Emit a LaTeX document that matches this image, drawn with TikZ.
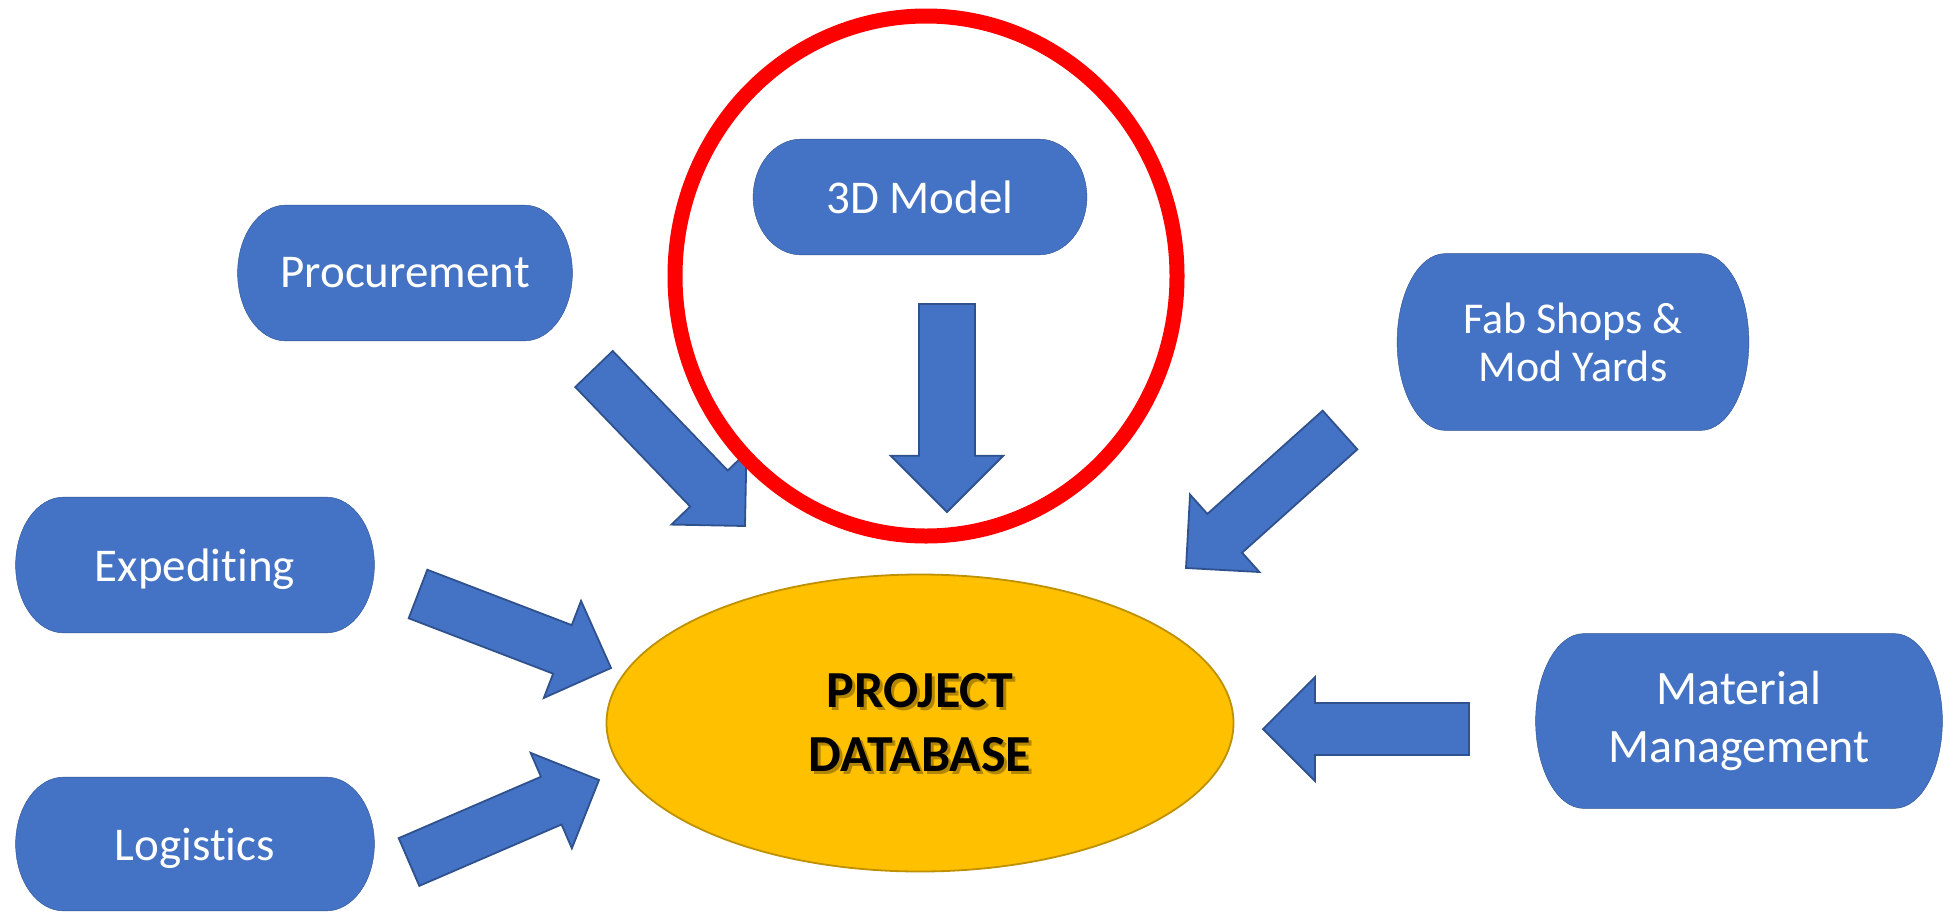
\documentclass[tikz,border=0pt]{standalone}
\usepackage{fontspec}
\setmainfont{Carlito}[Ligatures=CommonOff]
\usetikzlibrary{shapes.geometric, calc, backgrounds}

\definecolor{nodeblue}{HTML}{4472C4}
\definecolor{edgeblue}{HTML}{2F528F}
\definecolor{dbgold}{HTML}{FFC000}
\definecolor{dbedge}{HTML}{BF9000}

% end radius of the pill shaped boxes
\newcommand{\capr}{48pt}

% fat block arrow from #2 to #3, #1 scales shaft and head
\newcommand{\blockarrow}[3][1]{%
    \coordinate (hb) at ($(#3)!#1*52pt!(#2)$);
    \draw[blockarrow] ($(#2)!#1*26pt!90:(#3)$) -- ($(hb)!#1*26pt!90:(#3)$)
        -- ($(hb)!#1*52pt!90:(#3)$) -- (#3) -- ($(hb)!#1*52pt!-90:(#3)$)
        -- ($(hb)!#1*26pt!-90:(#3)$) -- ($(#2)!#1*26pt!-90:(#3)$) -- cycle;
}

\begin{document}
\begin{tikzpicture}[
        x = 1pt, y = -1pt,
        line width = 1.8pt,
        capsule/.style = {
            rectangle,
            inner sep = 0pt,
            align = center,
            text = white,
            font = {\fontsize{47}{58}\selectfont}
        },
        capsule edge/.style = {
            fill = nodeblue,
            draw = edgeblue
        },
        blockarrow/.style = {
            fill = nodeblue,
            draw = edgeblue
        },
        db/.style = {
            ellipse,
            inner sep = 0pt,
            minimum width = 627pt,
            minimum height = 297pt,
            fill = dbgold,
            draw = dbedge
        },
        db text/.style = {
            align = center,
            font = {\fontsize{52}{64}\selectfont\bfseries}
        },
        focus/.style = {draw = red, line width = 15pt}
    ]

    \useasboundingbox (0,0) rectangle (1960,911);

    \node[db] (db) at (920,723) {};
    \node[db text, text = black, opacity = 0.3] (db-shadow) at ([shift={(3,3)}]db.center) {PROJECT\\DATABASE};
    \node[db text] (db-label) at (db.center) {PROJECT\\DATABASE};

    \node[capsule, minimum width = 332pt, minimum height = 114pt] (model) at (920,197) {3D Model};
    \node[capsule, minimum width = 333pt, minimum height = 134pt] (procurement) at (405,273) {Procurement};
    \node[capsule, minimum width = 350pt, minimum height = 175pt, font = {\fontsize{44}{48}\selectfont}] (fab) at (1573,342) {Fab Shops \&\\Mod Yards};
    \node[capsule, minimum width = 357pt, minimum height = 134pt, text depth = 0pt] (expediting) at (195,565) {Expediting};
    \node[capsule, minimum width = 357pt, minimum height = 132pt, text depth = 0pt] (logistics) at (195,844) {Logistics};
    \node[capsule, minimum width = 405pt, minimum height = 173pt, font = {\fontsize{48}{58}\selectfont}] (material) at (1739,721) {Material\\Management};

    \begin{scope}[on background layer]
        \foreach \nd in {model, procurement, fab, expediting, logistics, material}
            \path[capsule edge] let \p1 = (\nd.north), \p2 = (\nd.south), \n1 = {abs(\y1-\y2)/2} in
                ([xshift=\capr]\nd.north west) arc[start angle=90, end angle=270, x radius=\capr, y radius=\n1]
                -- ([xshift=-\capr]\nd.south east) arc[start angle=-90, end angle=90, x radius=\capr, y radius=\n1]
                -- cycle;
    \end{scope}

    % arrows into the database
    \coordinate (model-tail) at (947,304);
    \coordinate (model-tip) at (947,512);
    \coordinate (procurement-tail) at (594,369);
    \coordinate (procurement-tip) at (745,526);
    \coordinate (fab-tail) at (1340,430);
    \coordinate (fab-tip) at (1186,568);
    \coordinate (expediting-tail) at (418,594);
    \coordinate (expediting-tip) at (611,668);
    \coordinate (logistics-tail) at (409,862);
    \coordinate (logistics-tip) at (599,780);
    \coordinate (material-tail) at (1469,729);
    \coordinate (material-tip) at (1263,729);

    \blockarrow[1.08]{model-tail}{model-tip}
    \blockarrow{procurement-tail}{procurement-tip}
    \blockarrow{fab-tail}{fab-tip}
    \blockarrow{expediting-tail}{expediting-tip}
    \blockarrow{logistics-tail}{logistics-tip}
    \blockarrow{material-tail}{material-tip}

    \coordinate (focus-centre) at (926,276);
    \draw[focus] (focus-centre) ellipse [x radius=251pt, y radius=260pt];

\end{tikzpicture}
\end{document}
